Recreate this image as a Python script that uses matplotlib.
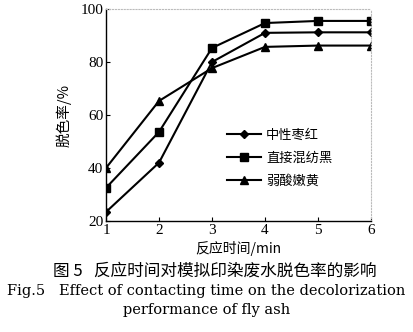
import matplotlib.pyplot as plt

plt.rcParams['font.family'] = ['Liberation Serif', 'Noto Sans CJK SC']

# 数据
t = [1, 2, 3, 4, 5, 6]
zaohong = [23.4, 42, 80, 91, 91.2, 91.2]
hunfanghei = [32.5, 53.6, 85.3, 94.7, 95.5, 95.5]
nenhuang = [40, 65.3, 77.7, 85.7, 86.2, 86.2]
labels = ['中性枣红', '直接混纺黑', '弱酸嫩黄']

fig = plt.figure(figsize=(4.13, 3.32), dpi=100)
ax = fig.add_axes([106 / 413, 1 - 221 / 332, 265 / 413, 212 / 332])

ax.plot(t, zaohong, '-', marker='D', color='black', lw=1.5, ms=4.5, label=labels[0])
ax.plot(t, hunfanghei, '-', marker='s', color='black', lw=1.5, ms=5.5, label=labels[1])
ax.plot(t, nenhuang, '-', marker='^', color='black', lw=1.5, ms=5.5, label=labels[2])

ax.set_xlim(1, 6)
ax.set_ylim(20, 100)
ax.set_xticks(t)
ax.set_yticks([20, 40, 60, 80, 100])
ax.tick_params(direction='in', length=3, labelsize=11, pad=2)
for s in ['top', 'right']:
    ax.spines[s].set_color('#bbbbbb')
    ax.spines[s].set_linestyle(':')
for s in ['left', 'bottom']:
    ax.spines[s].set_linewidth(1.0)

ax.set_ylabel('脱色率/%', fontsize=10.5, family=['Noto Sans CJK SC', 'Liberation Serif'], labelpad=6)
ax.set_xlabel('反应时间/min', fontsize=10, family=['Noto Sans CJK SC', 'Liberation Serif'], labelpad=3)

leg = ax.legend(loc='upper left', bbox_to_anchor=(0.41, 0.49), frameon=False,
                prop={'family': 'Noto Sans CJK SC', 'size': 9.5},
                handlelength=2.6, labelspacing=0.75, handletextpad=0.4)

fig.text(0.52, 1 - 271 / 332, '图 5   反应时间对模拟印染废水脱色率的影响', ha='center', va='center',
         fontsize=12, family=['Noto Sans CJK SC', 'Liberation Serif'])
fig.text(0.5, 1 - 291 / 332, 'Fig.5   Effect of contacting time on the decolorization', ha='center',
         va='center', fontsize=10.5, family='DejaVu Serif')
fig.text(0.5, 1 - 310 / 332, 'performance of fly ash', ha='center', va='center',
         fontsize=10.5, family='DejaVu Serif')

fig.savefig('out.png', dpi=100)
